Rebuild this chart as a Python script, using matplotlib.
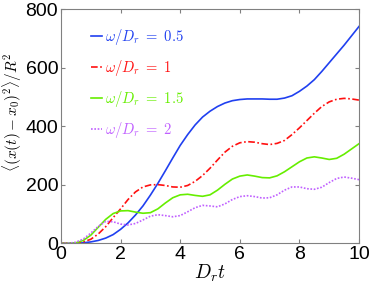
import matplotlib

matplotlib.use("Agg")
import matplotlib.pyplot as plt
import numpy as np

# time axis, D_r t
t = np.arange(0, 10.01, 0.25)

msd_05 = [0, 0, 0.5, 2, 5, 10, 18, 30, 48, 70, 97, 128, 165, 205, 248, 292,
          335, 372, 405, 432, 452, 468, 480, 488, 492, 494, 494, 494, 493, 493,
          497, 505, 520, 538, 560, 588, 618, 648, 678, 710, 742]
msd_1 = [0, 0, 1, 5, 14, 32, 57, 88, 118, 150, 176, 193, 200, 201, 198, 193,
         192, 198, 212, 232, 257, 285, 312, 332, 344, 348, 346, 341, 338, 342,
         352, 372, 395, 420, 445, 468, 484, 493, 496, 494, 490]
msd_15 = [0, 0, 2, 10, 28, 55, 82, 102, 111, 112, 107, 103, 105, 118, 138, 156,
          166, 168, 164, 161, 166, 182, 202, 220, 230, 234, 230, 225, 224, 231,
          245, 262, 279, 292, 296, 292, 287, 291, 305, 323, 341]
msd_2 = [0, 0.5, 4, 15, 35, 58, 75, 74, 66, 63, 68, 80, 93, 98, 95, 91,
         95, 108, 122, 130, 128, 125, 135, 150, 160, 163, 160, 155, 156, 166,
         182, 193, 193, 187, 185, 192, 208, 222, 227, 223, 218]

labels = [r"$\omega/D_r\ =\ 0.5$", r"$\omega/D_r\ =\ 1$",
          r"$\omega/D_r\ =\ 1.5$", r"$\omega/D_r\ =\ 2$"]
colors = ["#2040f0", "#ff1010", "#66ee00", "#c060ff"]
styles = ["-", (0, (4, 1.5, 1, 1.5)), "-", (0, (1, 1))]

plt.rcParams["mathtext.fontset"] = "cm"
plt.rcParams["font.family"] = "Liberation Sans"

fig = plt.figure(figsize=(3.74, 2.87), dpi=100)
ax = fig.add_axes([0.163, 0.152, 0.797, 0.815])

for y, lab, c, ls in zip([msd_05, msd_1, msd_15, msd_2], labels, colors, styles):
    ax.plot(t, y, color=c, ls=ls, lw=1.2, label=lab)

ax.set_xlim(0, 10)
ax.set_ylim(0, 800)
ax.set_xticks([0, 2, 4, 6, 8, 10])
ax.set_yticks([0, 200, 400, 600, 800])
ax.tick_params(direction="in", top=True, right=True, length=3, labelsize=14,
               color="#808080", pad=2)
for s in ax.spines.values():
    s.set_color("#808080")
ax.set_xlabel(r"$D_r t$", fontsize=14, labelpad=0)
ax.set_ylabel(r"$\langle (x(t)-x_0)^2\rangle/R^2$", fontsize=11)
ax.yaxis.set_label_coords(-0.125, 0.56)

leg = ax.legend(loc="upper left", bbox_to_anchor=(0.10, 0.925), frameon=False,
                fontsize=10.5, handlelength=0.8, handletextpad=0.15,
                labelspacing=0.76, borderpad=0, borderaxespad=0)
for txt, c in zip(leg.get_texts(), colors):
    txt.set_color(c)

fig.savefig("out.png", dpi=100)
